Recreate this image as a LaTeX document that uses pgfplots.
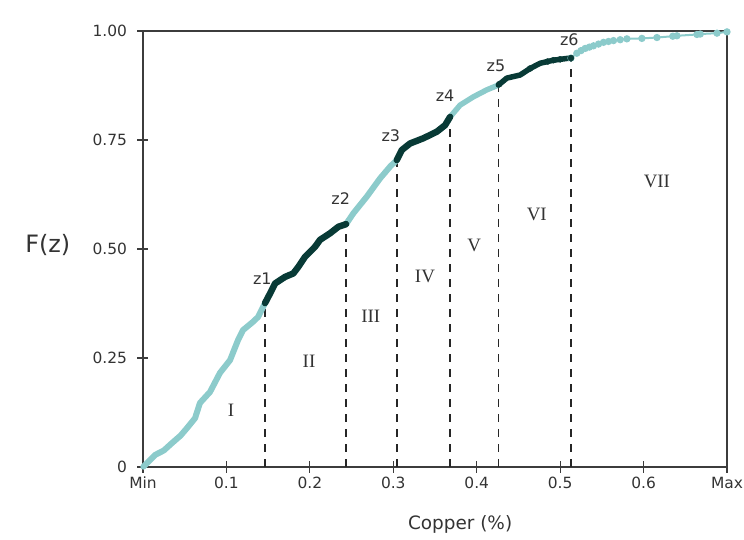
\documentclass[border=0pt]{standalone}
\usepackage{pgfplots}
\pgfplotsset{compat=1.18}
\usepackage{fontspec}
\setmainfont{DejaVu Sans}
\newfontfamily\romanfont{Liberation Serif}

\definecolor{lightteal}{RGB}{140,203,203}
\definecolor{darkteal}{RGB}{8,58,54}
\definecolor{textgrey}{RGB}{51,51,51}
\definecolor{axisgrey}{RGB}{60,60,60}

\begin{document}
\begin{tikzpicture}
\begin{axis}[
  at={(0,0)}, anchor=south west,
  scale only axis,
  width=584bp, height=436bp,
  xmin=0, xmax=0.7, ymin=0, ymax=1,
  axis line style={axisgrey, line width=1.4bp},
  tick style={axisgrey, line width=1.2bp},
  tick pos=left,
  tick align=center,
  major tick length=11bp,
  xtick={0,0.1,0.2,0.3,0.4,0.5,0.6,0.7},
  xticklabels={Min,0.1,0.2,0.3,0.4,0.5,0.6,Max},
  ytick={0,0.25,0.5,0.75,1},
  yticklabels={0,0.25,0.50,0.75,1.00},
  /pgf/number format/assume math mode=true,
  xticklabel style={font=\fontsize{15.5}{17}\selectfont, text=textgrey, yshift=-1bp},
  yticklabel style={font=\fontsize{15.5}{17}\selectfont, text=textgrey, xshift=-7bp},
  clip=false,
]
% boundaries between the classes
\pgfplotsset{cutoff/.style={black!85, line width=1.5bp, dash pattern=on 8bp off 7bp}}
\addplot[cutoff] coordinates {(0.1463,0) (0.1463,0.376)};
\addplot[cutoff] coordinates {(0.2434,0) (0.2434,0.557)};
\addplot[cutoff] coordinates {(0.3042,0) (0.3042,0.704)};
\addplot[cutoff] coordinates {(0.3681,0) (0.3681,0.803)};
\addplot[cutoff] coordinates {(0.4260,0) (0.4260,0.876)};
\addplot[cutoff] coordinates {(0.5130,0) (0.5130,0.938)};

% class I
\addplot[lightteal, line width=6bp, line cap=round, line join=round] coordinates {
(0.0004,0.0007) (0.0144,0.0275) (0.0250,0.038) (0.0348,0.055) (0.0450,0.072)
(0.0528,0.0894) (0.0624,0.112) (0.0683,0.147) (0.0803,0.172) (0.0923,0.216)
(0.1043,0.245) (0.1139,0.291) (0.1199,0.314) (0.1319,0.333) (0.1379,0.344)
(0.1463,0.376)};
% class III
\addplot[lightteal, line width=6bp, line cap=round, line join=round] coordinates {
(0.2434,0.557) (0.2522,0.582) (0.2682,0.620) (0.2842,0.662) (0.2962,0.689) (0.3042,0.704)};
% class V
\addplot[lightteal, line width=5.5bp, line cap=round, line join=round] coordinates {
(0.3681,0.803) (0.3801,0.830) (0.3960,0.849) (0.4121,0.865) (0.4260,0.876)};
% class VII
\addplot[lightteal, line width=2bp, mark=*, mark size=2.6bp, mark options={draw=lightteal, fill=lightteal}] coordinates {
(0.5130,0.938) (0.5200,0.949) (0.5250,0.955) (0.5300,0.960) (0.5350,0.963) (0.5400,0.966)
(0.5460,0.970) (0.5520,0.974) (0.5580,0.976) (0.5640,0.978) (0.5720,0.980) (0.5800,0.982)
(0.5980,0.983) (0.6160,0.985) (0.6350,0.988) (0.6400,0.989) (0.6640,0.992)
(0.6680,0.993) (0.6880,0.995) (0.7000,0.998)};

% class II
\addplot[darkteal, line width=6.5bp, line cap=round, line join=round] coordinates {
(0.1463,0.376) (0.1523,0.398) (0.1583,0.421) (0.1703,0.436) (0.1802,0.444)
(0.1862,0.459) (0.1942,0.482) (0.2062,0.505) (0.2122,0.521) (0.2242,0.536)
(0.2342,0.551) (0.2434,0.557)};
% class IV
\addplot[darkteal, line width=6.5bp, line cap=round, line join=round] coordinates {
(0.3042,0.704) (0.3102,0.727) (0.3201,0.742) (0.3361,0.754) (0.3522,0.769)
(0.3621,0.784) (0.3681,0.803)};
% class VI
\addplot[darkteal, line width=5.5bp, line cap=round, line join=round] coordinates {
(0.4260,0.876) (0.4361,0.892) (0.4520,0.899) (0.4640,0.914) (0.4760,0.926)
(0.4850,0.930) (0.4920,0.933) (0.5000,0.935) (0.5080,0.937) (0.5130,0.938)};
\addplot[only marks, mark=*, mark size=3bp, darkteal, mark options={fill=darkteal}] coordinates {
(0.4270,0.878) (0.4640,0.914) (0.4850,0.930) (0.4920,0.933) (0.5000,0.935) (0.5130,0.938)};

% cut-off labels
\begin{scope}[every node/.style={text=textgrey, font=\fontsize{16}{18}\selectfont}]
\node at (axis cs:0.143,0.431) {z1};
\node at (axis cs:0.237,0.615) {z2};
\node at (axis cs:0.297,0.759) {z3};
\node at (axis cs:0.362,0.851) {z4};
\node at (axis cs:0.423,0.920) {z5};
\node at (axis cs:0.511,0.979) {z6};
\end{scope}
% class labels
\begin{scope}[every node/.style={text=textgrey, font=\romanfont\fontsize{19}{21}\selectfont}]
\node at (axis cs:0.1055,0.131) {I};
\node at (axis cs:0.199,0.243) {II};
\node at (axis cs:0.273,0.346) {III};
\node at (axis cs:0.338,0.436) {IV};
\node at (axis cs:0.397,0.507) {V};
\node at (axis cs:0.472,0.580) {VI};
\node at (axis cs:0.616,0.656) {VII};
\end{scope}
% axis titles
\node[text=textgrey, font=\fontsize{24}{26}\selectfont] at (axis description cs:-0.163,0.509) {F(z)};
\node[text=textgrey, font=\fontsize{18.5}{20}\selectfont] at (axis description cs:0.543,-0.132) {Copper (\%)};
\end{axis}
\pgfresetboundingbox
\path (-143bp,-73bp) rectangle (601bp,467bp);
\end{tikzpicture}
\end{document}
